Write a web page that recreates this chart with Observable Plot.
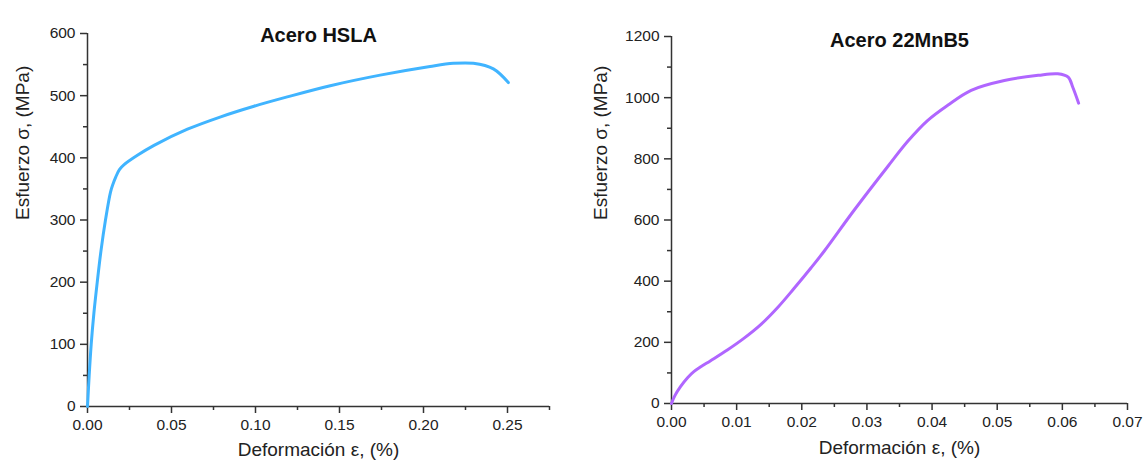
<!DOCTYPE html>
<html><head><meta charset="utf-8">
<script src="https://cdn.jsdelivr.net/npm/d3@7"></script>
<script src="https://cdn.jsdelivr.net/npm/@observablehq/plot@0.6"></script>
<style>
html,body{margin:0;padding:0;background:#fff;}
#wrap{display:flex;width:1144px;height:466px;overflow:hidden;}
</style></head><body><div id="wrap"></div>
<script>
// ---- Data: Acero HSLA ----
const hslaStrain = [0, 0.001, 0.0022, 0.0038, 0.0058, 0.008, 0.0107, 0.0137, 0.0152, 0.0168, 0.0190, 0.0218, 0.0297, 0.0396, 0.0595, 0.0793, 0.0991, 0.1189, 0.1445, 0.1742, 0.2039, 0.2178, 0.2297, 0.2416, 0.2505];
const hslaStress = [0, 50, 100, 150, 200, 250, 300, 345, 358, 369, 381, 389, 404, 420, 446, 466, 483, 498, 516, 533, 547, 552, 552, 543, 521];
// ---- Data: Acero 22MnB5 ----
const mnbStrain = [0, 0.0005, 0.00138, 0.0025, 0.00343, 0.0045, 0.006, 0.00857, 0.0111, 0.0137, 0.0163, 0.0188, 0.0214, 0.0234, 0.0280, 0.0332, 0.0363, 0.0393, 0.0424, 0.046, 0.0511, 0.0563, 0.0593, 0.0609, 0.0616, 0.0625];
const mnbStress = [0, 25, 55, 85, 104, 120, 140, 175, 213, 258, 314, 376, 443, 497, 631, 775, 858, 925, 975, 1024, 1056, 1073, 1078, 1067, 1034, 982];

// ---- Tick labels ----
const hslaXTicks = [0, 0.05, 0.10, 0.15, 0.20, 0.25];
const hslaXMinor = [0.025, 0.075, 0.125, 0.175, 0.225, 0.275];
const hslaYTicks = [0, 100, 200, 300, 400, 500, 600];
const hslaYMinor = [50, 150, 250, 350, 450, 550];
const mnbXTicks = [0, 0.01, 0.02, 0.03, 0.04, 0.05, 0.06, 0.07];
const mnbXMinor = [0.005, 0.015, 0.025, 0.035, 0.045, 0.055, 0.065];
const mnbYTicks = [0, 200, 400, 600, 800, 1000, 1200];
const mnbYMinor = [100, 300, 500, 700, 900, 1100];

const titles = ["Acero HSLA", "Acero 22MnB5"];
const xLabel = "Deformación ε, (%)";
const yLabel = "Esfuerzo σ, (MPa)";

const font = "'Liberation Sans', Arial, Helvetica, sans-serif";
const axisColor = "#333";

function chart({strain, stress, color, title, xDomain, yDomain, xTicks, xMinor, yTicks, yMinor,
                marginLeft, marginRight, marginTop, marginBottom, yLabelDx, xLabelDy, titleDy}) {
  const rows = strain.map((s, i) => ({strain: s, stress: stress[i]}));
  const svg = Plot.plot({
    width: 572,
    height: 466,
    marginLeft, marginRight, marginTop, marginBottom,
    style: {fontFamily: font, fontSize: "15px", color: "#222", background: "white", overflow: "visible"},
    x: {domain: xDomain},
    y: {domain: yDomain},
    marks: [
      Plot.ruleY([yDomain[0]], {stroke: axisColor, strokeWidth: 1.5}),
      Plot.ruleX([xDomain[0]], {stroke: axisColor, strokeWidth: 1.5}),
      Plot.axisX({ticks: xTicks, tickSize: 7, tickPadding: 5, tickFormat: d3.format(".2f"),
        stroke: axisColor, strokeWidth: 1.5, label: null}),
      Plot.axisX({ticks: xMinor, tickSize: 4, tickFormat: () => "", stroke: axisColor, strokeWidth: 1.5, label: null}),
      Plot.axisY({ticks: yTicks, tickSize: 7, tickPadding: 5, tickFormat: d3.format("d"),
        stroke: axisColor, strokeWidth: 1.5, label: null}),
      Plot.axisY({ticks: yMinor, tickSize: 4, tickFormat: () => "", stroke: axisColor, strokeWidth: 1.5, label: null}),
      Plot.line(rows, {x: "strain", y: "stress", stroke: color, strokeWidth: 3, curve: "catmull-rom"}),
      Plot.text([title], {text: d => d, frameAnchor: "top", dy: titleDy, fontSize: 20, fontWeight: "bold", fill: "#111"}),
      Plot.text([xLabel], {text: d => d, frameAnchor: "bottom", dy: xLabelDy, fontSize: 19, fill: "#222"}),
      Plot.text([yLabel], {text: d => d, frameAnchor: "left", dx: yLabelDx, rotate: -90, fontSize: 19, fill: "#222"})
    ]
  });
  // enlarge numeric tick labels
  svg.querySelectorAll("text").forEach(t => {
    if (/^[0-9.]+$/.test(t.textContent.trim())) {
      t.setAttribute("font-size", "15.5");
      t.style.fontSize = "15.5px";
      t.style.fill = "#222";
    }
  });
  return svg;
}

const wrap = document.getElementById("wrap");
wrap.append(chart({
  strain: hslaStrain, stress: hslaStress, color: "#40b4ff", title: titles[0],
  xDomain: [0, 0.275], yDomain: [0, 600], xTicks: hslaXTicks, xMinor: hslaXMinor, yTicks: hslaYTicks, yMinor: hslaYMinor,
  marginLeft: 87, marginRight: 23, marginTop: 33, marginBottom: 60, yLabelDx: -65, xLabelDy: 49, titleDy: -6
}));
wrap.append(chart({
  strain: mnbStrain, stress: mnbStress, color: "#b066ff", title: titles[1],
  xDomain: [0, 0.07], yDomain: [0, 1200], xTicks: mnbXTicks, xMinor: mnbXMinor, yTicks: mnbYTicks, yMinor: mnbYMinor,
  marginLeft: 99, marginRight: 17, marginTop: 36, marginBottom: 63, yLabelDx: -71, xLabelDy: 50, titleDy: -4
}));
</script>
</body></html>
